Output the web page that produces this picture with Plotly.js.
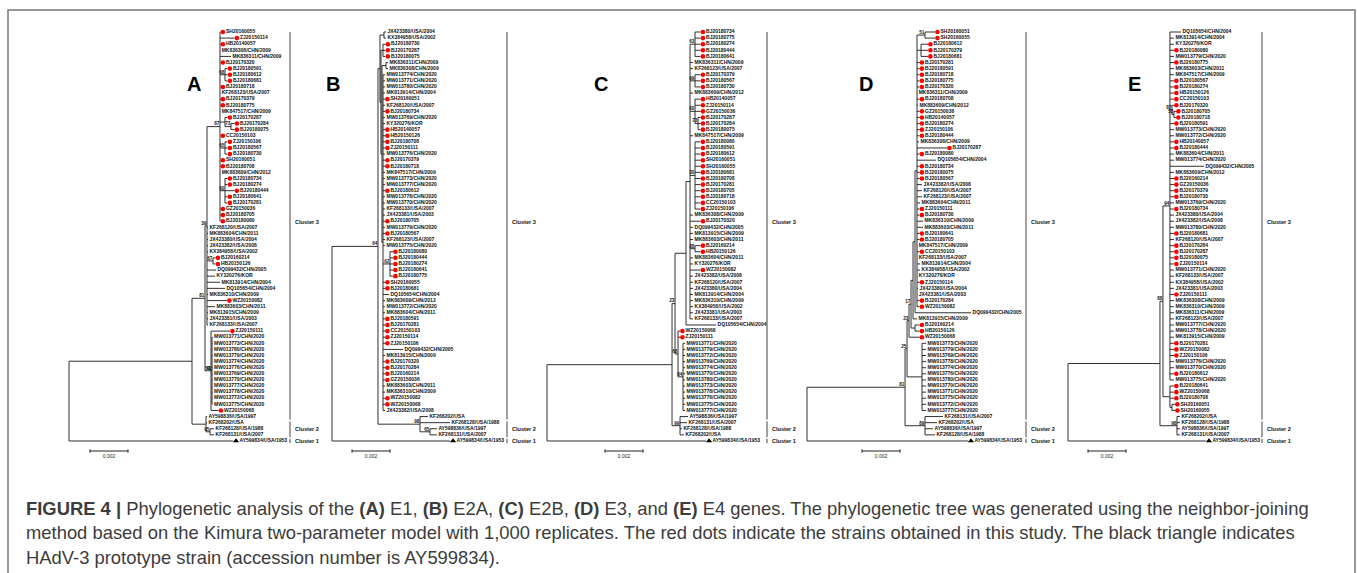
<!DOCTYPE html>
<html><head><meta charset="utf-8">
<script src="https://cdn.plot.ly/plotly-3.0.1.min.js"></script>
<style>html,body{margin:0;padding:0;background:#fff}</style>
</head><body><div id="chart" style="width:1357px;height:573px"></div>
<script>
// ---------------- DATA ----------------
const panelLetters = ["A", "B", "C", "D", "E"];
const geneNames = ["E1", "E2A", "E2B", "E3", "E4"];
const clusterNames = ["Cluster 3", "Cluster 2", "Cluster 1"];
const scaleBarValue = 0.002;
const scaleBarLabel = "0.002";
const prototypeStrain = "AY599834/USA/1953";
const studyStrains = ["SH20160055","ZJ20150114","HB20140057","BJ20170320","BJ20180591","BJ20180612","BJ20180681","BJ20180718","BJ20170379","BJ20180775","BJ20170287","BJ20170284","BJ20180075","CC20150103","ZJ20150106","BJ20180567","BJ20180730","SH20160051","BJ20180708","BJ20180734","BJ20180274","BJ20180444","BJ20180641","BJ20170281","GZ20150036","BJ20180705","BJ20180080","BJ20160214","HB20150126","WZ20150082","ZJ20150111","WZ20150068"];

// Neighbor-joining trees (Newick; branch lengths in substitutions/site; internal labels = bootstrap %)
const treeA = `(((((SH20160055:0.000026,ZJ20150114:0.000763,HB20140057:0.000026,MK836308/CHN/2009:0.00001,MK836311/CHN/2009:0.000579,BJ20170320:0.000026,
(BJ20180591:0.000132,BJ20180612:0.000132,BJ20180681:0.000132)68:0.000263,BJ20180718:0.000026,KF268123/USA/2007:0.00001,BJ20170379:0.000026,BJ20180775:0.000026,MK847517/CHN/2009:0.00001,
(BJ20170287:0.000132,(BJ20170284:0.000184,BJ20180075:0.000184)73:0.000316):0.000263,CC20150103:0.000026,
(ZJ20150106:0.000132,BJ20180567:0.000132,BJ20180730:0.000132)65:0.000263,SH20160051:0.000026,BJ20180708:0.000026,MK883609/CHN/2012:0.00001,
(BJ20180734:0.000132,BJ20180274:0.000132,BJ20180444:0.0005,BJ20180641:0.000132,BJ20170281:0.000132)60:0.000263,GZ20150036:0.000026,BJ20180705:0.000026,BJ20180080:0.000026)87:0.000684,
KF268120/USA/2007:0.000053,MK883604/CHN/2011:0.000053,JX423380/USA/2004:0.000053,JX423382/USA/2008:0.000053,KX384958/USA/2002:0.000053,
(BJ20160214:0.000132,HB20150126:0.000132)67:0.000316,DQ099432/CHN/2005:0.000474,KY320276/KOR:0.000421,MK813914/CHN/2004:0.000684,DQ105654/CHN/2004:0.000947,
MK836310/CHN/2009:0.000053,WZ20150082:0.001053,MK883603/CHN/2011:0.000421,MK813915/CHN/2009:0.000053,JX423381/USA/2003:0.000053,KF268133/USA/2007:0.000053)39:0.000105,
(ZJ20150111:0.001,(MW013771/CHN/2020:0.000026,MW013773/CHN/2020:0.000026,MW013780/CHN/2020:0.000026,MW013779/CHN/2020:0.000026,MW013774/CHN/2020:0.000026,MW013776/CHN/2020:0.000026,
MW013769/CHN/2020:0.000026,MW013770/CHN/2020:0.000026,MW013777/CHN/2020:0.000026,MW013778/CHN/2020:0.000026,MW013772/CHN/2020:0.000026,MW013775/CHN/2020:0.000026)40:0.000053,
WZ20150068:0.000395)53:0.000316)81:0.000684,
(AY598836/USA/1997:0.000053,KF268202/USA:0.000053,(KF268128/USA/1988:0.000211,KF268131/USA/2007:0.000211)95:0.000211):0.000737):0.006474,AY599834/USA/1953:0.008632);`;

const treeB = `((((JX423380/USA/2004:0.000105,KX384958/USA/2002:0.000105):0.000211,
((BJ20180730:0.000132,BJ20170287:0.000132,BJ20180075:0.000132):0.000105,
((MK836311/CHN/2009:0.000105,MK836308/CHN/2009:0.000105):0.000211,
(MW013774/CHN/2020:0.000105,MW013771/CHN/2020:0.000105,MW013780/CHN/2020:0.000105,MK813914/CHN/2004:0.000105,SH20160051:0.000105,KF268120/USA/2007:0.000105,BJ20180734:0.000105,
MW013769/CHN/2020:0.000105,KY320276/KOR:0.000105,HB20140057:0.000105,HB20150126:0.000105,BJ20180708:0.000105,ZJ20150111:0.000105,MW013776/CHN/2020:0.000105,BJ20170379:0.000105,
BJ20180718:0.000105,MK847517/CHN/2009:0.000105,MW013773/CHN/2020:0.000105,MW013777/CHN/2020:0.000105,BJ20180612:0.000105,MW013778/CHN/2020:0.000105,MW013770/CHN/2020:0.000105,
KF268133/USA/2007:0.000105,JX423381/USA/2003:0.000105,BJ20180705:0.000105,MW013779/CHN/2020:0.000105,BJ20180567:0.000105,KF268123/USA/2007:0.000105,MW013775/CHN/2020:0.000105,
(BJ20180080:0.000158,BJ20180444:0.000158,BJ20180274:0.000158,BJ20180641:0.000158,BJ20180775:0.000158)62:0.000368,
SH20160055:0.000105,BJ20180681:0.000105,DQ105654/CHN/2004:0.000316,MK883609/CHN/2012:0.000105,MW013772/CHN/2020:0.000105,MK883604/CHN/2011:0.000105,BJ20180591:0.000105,
BJ20170281:0.000105,CC20150103:0.000105,ZJ20150114:0.000105,ZJ20150106:0.000105,DQ099432/CHN/2005:0.00105,MK813915/CHN/2009:0.000105,BJ20170320:0.000105,BJ20170284:0.000105,
BJ20160214:0.000105,GZ20150036:0.000105,MK883603/CHN/2011:0.000105,MK836310/CHN/2009:0.000105,WZ20150082:0.000105,WZ20150068:0.000105,JX423382/USA/2008:0.000105
):0.000053):0.000053):0.000053):0.000105,
(KF268202/USA:0.000421,KF268128/USA/1988:0.00158,(AY598836/USA/1997:0.000368,KF268131/USA/2007:0.000368)65:0.000526)98:0.00221
)64:0.00242,AY599834/USA/1953:0.00621);`;

const treeC = `(((((
(BJ20180734:0.000289,BJ20180775:0.000289,BJ20180274:0.000289,BJ20180444:0.000289,BJ20180641:0.000289)63:0.000263,
MK836311/CHN/2009:0.000158,KF268123/USA/2007:0.000158,
(BJ20170379:0.000289,BJ20180567:0.000289,BJ20180730:0.000289)99:0.000263,
MK883609/CHN/2012:0.000158,
(HB20140057:0.000289,ZJ20150114:0.000289,GZ20150036:0.000289,(BJ20170287:0.000132,BJ20170284:0.000132,BJ20180075:0.000132)73:0.000158)60:0.000263,
MK847517/CHN/2009:0.000158,
(BJ20180080:0.000289,BJ20180591:0.000289,BJ20180612:0.000289,SH20160051:0.000289,SH20160055:0.000289,BJ20180681:0.000289,BJ20180708:0.000289,BJ20170281:0.000289,
BJ20180705:0.000289,BJ20180718:0.000289,CC20150103:0.000289,ZJ20150106:0.000289)30:0.000263,
MK836308/CHN/2009:0.000158,BJ20170320:0.000553,
DQ099432/CHN/2005:0.000158,MK813915/CHN/2009:0.000158,MK883603/CHN/2011:0.000158,
(BJ20160214:0.000289,HB20150126:0.000289)88:0.000263,
MK883604/CHN/2011:0.000158,KY320276/KOR:0.000158,WZ20150082:0.000553,
JX423382/USA/2008:0.000158,KF268120/USA/2007:0.000158,JX423380/USA/2004:0.000158,MK813914/CHN/2004:0.000158,MK836310/CHN/2009:0.000158,KX384958/USA/2002:0.000158,
JX423381/USA/2003:0.000158,KF268133/USA/2007:0.000158
):0.000211,DQ105654/CHN/2004:0.00158):0.000579,
(WZ20150068:0.000105,ZJ20150111:0.000105,(MW013771/CHN/2020:0.000105,MW013779/CHN/2020:0.000105,MW013772/CHN/2020:0.000105,MW013769/CHN/2020:0.000105,MW013774/CHN/2020:0.000105,
MW013770/CHN/2020:0.000105,MW013780/CHN/2020:0.000105,MW013773/CHN/2020:0.000105,MW013778/CHN/2020:0.000105,MW013776/CHN/2020:0.000105,MW013775/CHN/2020:0.000105,
MW013777/CHN/2020:0.000105)84:0.000263)68:0.000158
)23:0.000158,
(AY598836/USA/1997:0.000421,KF268131/USA/2007:0.000368,KF268128/USA/1988:0.000105,KF268202/USA:0.000211)99:0.000421
):0.00658,AY599834/USA/1953:0.00837);`;

const treeD = `(((((((((
(SH20160051:0.000526,SH20160055:0.000526)51:0.000421,
(BJ20180612:0.000368,BJ20170379:0.000368,BJ20180681:0.000368):0.000211,
BJ20170281:0.000132,BJ20180591:0.000132,BJ20180718:0.000132,BJ20180775:0.000132,BJ20170320:0.000132,
MK836311/CHN/2009:0.00001,BJ20180708:0.000132,MK883609/CHN/2012:0.000053,
GZ20150036:0.000132,HB20140057:0.000132,BJ20180274:0.000132,ZJ20150106:0.000132,BJ20180444:0.000132,
MK836308/CHN/2009:0.000105,BJ20170287:0.00158,BJ20180080:0.000132,DQ105654/CHN/2004:0.001,
BJ20180734:0.000132,BJ20180075:0.000132,BJ20180567:0.000132,
JX423382/USA/2008:0.000263,KF268120/USA/2007:0.000263,KF268123/USA/2007:0.000263,MK883604/CHN/2011:0.000158,
ZJ20150111:0.000132,BJ20180730:0.000132,MK836310/CHN/2009:0.000316,MK883603/CHN/2011:0.000316,
BJ20180641:0.000132,BJ20180705:0.000132,MK847517/CHN/2009:0.00001,CC20150103:0.000132,KF268133/USA/2007:0.00001,
MK813914/CHN/2004:0.000158,KX384958/USA/2002:0.000158,KY320276/KOR:0.00001,ZJ20150114:0.000132,
JX423380/USA/2004:0.00005,JX423381/USA/2003:0.00001,BJ20170284:0.000132,WZ20150082:0.000132
):0.000105,DQ099432/CHN/2005:0.00295):0.000105,
MK813915/CHN/2009:0.000211):0.000105,
(BJ20160214:0.000237,HB20150126:0.000237):0.000211)17:0.000105,
WZ20150068:0.000553)23:0.000105,
(MW013773/CHN/2020:0.000211,MW013779/CHN/2020:0.000211,MW013769/CHN/2020:0.000211,MW013778/CHN/2020:0.000211,MW013774/CHN/2020:0.000211,MW013776/CHN/2020:0.000211,
MW013780/CHN/2020:0.000211,MW013770/CHN/2020:0.000211,MW013771/CHN/2020:0.000211,MW013775/CHN/2020:0.000211,MW013772/CHN/2020:0.000211,MW013777/CHN/2020:0.000211):0.000789
)25:0.000105,
(KF268131/USA/2007:0.000947,KF268202/USA:0.000632,AY598836/USA/1997:0.000421,KF268128/USA/1988:0.000526)89:0.00105
)81:0.00516,AY599834/USA/1953:0.00847);`;

const treeE = `((((DQ105654/CHN/2004:0.000579,MK813914/CHN/2004:0.000211,KY320276/KOR:0.000211,BJ20180080:0.000211,MW013779/CHN/2020:0.000211,BJ20180775:0.000211,MK883603/CHN/2011:0.000211,
MK847517/CHN/2009:0.000211,BJ20180567:0.000211,BJ20180274:0.000211,HB20150126:0.000211,CC20150103:0.000211,
(BJ20170320:0.000105,(BJ20180705:0.000105,BJ20180718:0.000105)53:0.000105)87:0.000105,
BJ20180591:0.000211,MW013773/CHN/2020:0.000211,MW013772/CHN/2020:0.000211,HB20140057:0.000211,BJ20180444:0.000211,MK883604/CHN/2011:0.000211,MW013774/CHN/2020:0.000211,
DQ099432/CHN/2005:0.00179,MK883609/CHN/2012:0.000211,BJ20160214:0.000211,GZ20150036:0.000211,BJ20170379:0.000211,BJ20180730:0.000211,MW013769/CHN/2020:0.000211,
BJ20180734:0.000211,JX423380/USA/2004:0.000211,JX423382/USA/2008:0.000211,MW013780/CHN/2020:0.000211,BJ20180681:0.000211,KF268120/USA/2007:0.000211,BJ20170284:0.000211,
BJ20170287:0.000211,BJ20180075:0.000211,ZJ20150114:0.000211,MW013771/CHN/2020:0.000211,KF268133/USA/2007:0.000211,KX384958/USA/2002:0.000211,JX423381/USA/2003:0.000211,
ZJ20150111:0.000211,MK836308/CHN/2009:0.000211,MK836310/CHN/2009:0.000211,MK836311/CHN/2009:0.000211,KF268123/USA/2007:0.000211,MW013777/CHN/2020:0.000211,
MW013778/CHN/2020:0.000211,MK813915/CHN/2009:0.000211,BJ20170281:0.000211,WZ20150082:0.000211,ZJ20150106:0.000211,
MW013776/CHN/2020:0.000211,MW013770/CHN/2020:0.000211,BJ20180612:0.000211,MW013775/CHN/2020:0.000211)94:0.000368,
(BJ20180641:0.000211,WZ20150068:0.000211,BJ20180708:0.000211,(SH20160051:0.000158,SH20160055:0.000158):0.000105):0.000368)88:0.000158,
(KF268202/USA:0.000158,KF268128/USA/1988:0.000158,AY598836/USA/1997:0.000158,KF268131/USA/2007:0.000158)98:0.000895):0.00484,AY599834/USA/1953:0.00726);`;

const trees = [treeA, treeB, treeC, treeD, treeE];

const captionLines = [
  "<b>FIGURE 4 |</b> Phylogenetic analysis of the <b>(A)</b> E1, <b>(B)</b> E2A, <b>(C)</b> E2B, <b>(D)</b> E3, and <b>(E)</b> E4 genes. The phylogenetic tree was generated using the neighbor-joining",
  "method based on the Kimura two-parameter model with 1,000 replicates. The red dots indicate the strains obtained in this study. The black triangle indicates",
  "HAdV-3 prototype strain (accession number is AY599834)."
];

// ---------------- LAYOUT / STYLE ----------------
const W = 1357, H = 573;
const pxPerUnit = 19000;      // 0.002 subs/site ~ 38 px
const rowTop = 32, rowGap = 6.104;
const panelPos = [
  {root: 69,   letter: [194, 84],  bracket: 290,  scale: 90},
  {root: 332,  letter: [333, 84],  bracket: 507,  scale: 352},
  {root: 547,  letter: [601, 84],  bracket: 767,  scale: 605},
  {root: 807,  letter: [866, 84],  bracket: 1026, scale: 862},
  {root: 1068, letter: [1134, 84], bracket: 1262, scale: 1088}
];
const FONT = "Liberation Sans, Arial, Helvetica, sans-serif";

function parseNewick(str) {
  const s = str.replace(/\s+/g, "");
  let i = 0;
  function node() {
    const n = {children: [], name: "", len: 0};
    if (s[i] === "(") {
      i++;
      n.children.push(node());
      while (s[i] === ",") { i++; n.children.push(node()); }
      i++;
    }
    let nm = "";
    while (i < s.length && !",():;".includes(s[i])) nm += s[i++];
    n.name = nm;
    if (s[i] === ":") {
      i++; let num = "";
      while (i < s.length && !",();".includes(s[i])) num += s[i++];
      n.len = parseFloat(num);
    }
    return n;
  }
  return node();
}
function layoutTree(root) {
  const leaves = [], internals = [];
  (function walk(n, x) {
    n.x = x;
    if (!n.children.length) { n.y = leaves.length; leaves.push(n); }
    else {
      n.children.forEach(c => walk(c, x + c.len));
      n.y = (n.children[0].y + n.children[n.children.length - 1].y) / 2;
      internals.push(n);
    }
  })(root, 0);
  return {leaves, internals};
}
const u = px => px / pxPerUnit;
const rowOf = py => (py - rowTop) / rowGap;

const data = [];
const layout = {
  width: W, height: H, margin: {l: 0, r: 0, t: 0, b: 0},
  paper_bgcolor: "#fff", plot_bgcolor: "#fff", showlegend: false,
  yaxis: {domain: [0, 1], range: [(H - rowTop) / rowGap, -rowTop / rowGap], visible: false, fixedrange: true},
  shapes: [], annotations: []
};

trees.forEach((nwk, p) => {
  const pos = panelPos[p];
  const xa = p === 0 ? "x" : "x" + (p + 1);
  const axKey = p === 0 ? "xaxis" : "xaxis" + (p + 1);
  layout[axKey] = {domain: [0, 1], range: [-pos.root / pxPerUnit, (W - pos.root) / pxPerUnit],
    visible: false, fixedrange: true, anchor: "y"};
  if (p) layout[axKey].overlaying = "x";

  const root = parseNewick(nwk);
  const {leaves, internals} = layoutTree(root);

  const bx = [], by = [];
  (function walk(n) {
    if (n.children.length) {
      bx.push(n.x, n.x, null); by.push(n.children[0].y, n.children[n.children.length - 1].y, null);
      n.children.forEach(c => { bx.push(n.x, c.x, null); by.push(c.y, c.y, null); walk(c); });
    }
  })(root);
  data.push({type: "scatter", mode: "lines", x: bx, y: by, xaxis: xa, yaxis: "y",
    line: {color: "#1a1a1a", width: 0.9}, hoverinfo: "skip"});

  const isStudy = n => studyStrains.includes(n.name);
  const isProto = n => n.name === prototypeStrain;
  data.push({type: "scatter", mode: "text", xaxis: xa, yaxis: "y",
    x: leaves.map(l => l.x + u(isStudy(l) ? 5.5 : isProto(l) ? 6.5 : 1.5)),
    y: leaves.map(l => l.y), text: leaves.map(l => l.name),
    textposition: "middle right", cliponaxis: false,
    textfont: {family: FONT, size: 5, color: "#111", weight: "bold"}, hoverinfo: "skip"});
  const st = leaves.filter(isStudy);
  data.push({type: "scatter", mode: "markers", xaxis: xa, yaxis: "y",
    x: st.map(l => l.x + u(2.4)), y: st.map(l => l.y),
    marker: {color: "#ff0000", size: 4.6, line: {width: 0}}, hoverinfo: "skip"});
  const pr = leaves.filter(isProto);
  data.push({type: "scatter", mode: "markers", xaxis: xa, yaxis: "y",
    x: pr.map(l => l.x + u(3)), y: pr.map(l => l.y),
    marker: {color: "#000", size: 5.5, symbol: "triangle-up", line: {width: 0}}, hoverinfo: "skip"});
  const bs = internals.filter(n => n.name !== "" && !isNaN(+n.name));
  data.push({type: "scatter", mode: "text", xaxis: xa, yaxis: "y",
    x: bs.map(n => n.x - u(0.6)), y: bs.map(n => n.y), text: bs.map(n => n.name),
    textposition: "top left", cliponaxis: false,
    textfont: {family: FONT, size: 4.6, color: "#111", weight: "bold"}, hoverinfo: "skip"});
  const sx0 = u(pos.scale - pos.root), sx1 = sx0 + scaleBarValue;
  const sy = rowOf(451), tk = 0.28;
  data.push({type: "scatter", mode: "lines", xaxis: xa, yaxis: "y",
    x: [sx0, sx1, null, sx0, sx0, null, sx1, sx1], y: [sy, sy, null, sy - tk, sy + tk, null, sy - tk, sy + tk],
    line: {color: "#222", width: 1}, hoverinfo: "skip"});
  data.push({type: "scatter", mode: "text", xaxis: xa, yaxis: "y",
    x: [(sx0 + sx1) / 2], y: [rowOf(456.5)], text: [scaleBarLabel], textposition: "middle center",
    textfont: {family: FONT, size: 5, color: "#222"}, hoverinfo: "skip"});

  const n = leaves.length;
  const ranges = [[0, n - 5 + 0.5], [n - 5 + 0.8, n - 2 + 0.4], [n - 1 - 0.35, n - 1 + 0.35]];
  const labelRows = [rowOf(222), (ranges[1][0] + ranges[1][1]) / 2, n - 1];
  ranges.forEach((r, k) => {
    layout.shapes.push({type: "line", xref: "paper", yref: "y", x0: pos.bracket / W, x1: pos.bracket / W,
      y0: r[0], y1: r[1], line: {color: "#444", width: 1}});
    layout.annotations.push({xref: "paper", yref: "y", x: (pos.bracket + 2.5) / W, y: labelRows[k],
      xanchor: "left", yanchor: "middle", text: clusterNames[k], showarrow: false,
      font: {family: FONT, size: 5.6, color: "#111", weight: "bold"}});
  });
  layout.annotations.push({xref: "paper", yref: "paper", x: pos.letter[0] / W, y: 1 - pos.letter[1] / H,
    xanchor: "center", yanchor: "middle", text: "<b>" + panelLetters[p] + "</b>", showarrow: false,
    font: {family: FONT, size: 20, color: "#000"}});
});

const capY = [508, 532, 557];
captionLines.forEach((t, k) => layout.annotations.push({xref: "paper", yref: "paper", x: 24 / W, y: 1 - capY[k] / H,
  xanchor: "left", yanchor: "middle", text: t, showarrow: false, align: "left",
  font: {family: FONT, size: 18.4, color: "#3c3c3c"}}));
layout.shapes.push({type: "rect", xref: "paper", yref: "paper", x0: 8 / W, x1: 1355 / W, y0: -0.1, y1: 1 - 10 / H,
  line: {color: "#777", width: 1.5}, fillcolor: "rgba(0,0,0,0)"});

Plotly.newPlot("chart", data, layout, {staticPlot: true, displayModeBar: false});
</script></body></html>
